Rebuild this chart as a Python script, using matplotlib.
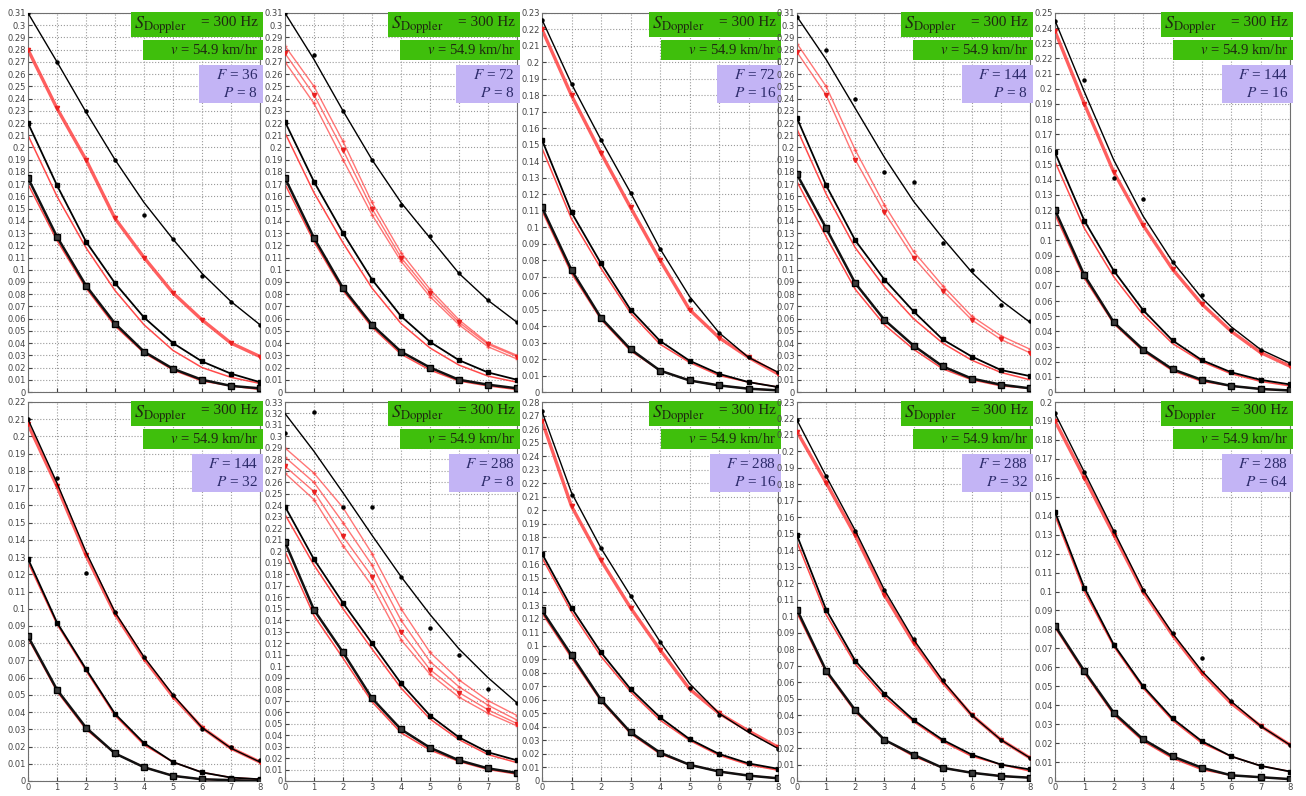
import numpy as np
import matplotlib
matplotlib.use("Agg")
import matplotlib.pyplot as plt
from matplotlib.patches import Rectangle
from matplotlib.ticker import FuncFormatter

plt.rcParams['mathtext.fontset'] = 'stix'
plt.rcParams['font.family'] = ['DejaVu Sans']

X = [0, 1, 2, 3, 4, 5, 6, 7, 8]

F_VALUES = [36, 72, 72, 144, 144, 144, 288, 288, 288, 288]
P_VALUES = [8, 8, 16, 8, 16, 32, 8, 16, 32, 64]
Y_MAX = [0.31, 0.31, 0.23, 0.31, 0.25, 0.22, 0.33, 0.28, 0.23, 0.20]

# black curves (top, middle, bottom) and the scattered points on the top one
p1_black = [[0.31, 0.27, 0.229, 0.19, 0.155, 0.125, 0.097, 0.074, 0.055],
            [0.22, 0.169, 0.123, 0.089, 0.061, 0.04, 0.025, 0.015, 0.008],
            [0.175, 0.127, 0.087, 0.056, 0.033, 0.019, 0.01, 0.005, 0.003]]
p1_dots = [0.31, 0.27, 0.23, 0.19, 0.145, 0.125, 0.095, 0.074, 0.055]
p1_red_top = [[0.28, 0.232, 0.19, 0.142, 0.11, 0.081, 0.059, 0.04, 0.029]]
p1_red = [[0.21, 0.16, 0.118, 0.083, 0.055, 0.034, 0.02, 0.012, 0.007],
          [0.17, 0.124, 0.085, 0.054, 0.032, 0.018, 0.009, 0.005, 0.002]]

p2_black = [[0.31, 0.272, 0.23, 0.19, 0.155, 0.126, 0.097, 0.075, 0.057],
            [0.221, 0.172, 0.13, 0.092, 0.062, 0.041, 0.026, 0.016, 0.01],
            [0.175, 0.126, 0.085, 0.055, 0.033, 0.02, 0.01, 0.006, 0.003]]
p2_dots = [0.31, 0.276, 0.23, 0.19, 0.153, 0.128, 0.097, 0.075, 0.057]
p2_red_top = [[0.283, 0.25, 0.205, 0.155, 0.114, 0.084, 0.059, 0.04, 0.03],
              [0.277, 0.243, 0.198, 0.15, 0.11, 0.081, 0.057, 0.039, 0.029],
              [0.27, 0.236, 0.19, 0.145, 0.107, 0.078, 0.055, 0.037, 0.027]]
p2_red = [[0.212, 0.163, 0.122, 0.085, 0.056, 0.036, 0.022, 0.013, 0.008],
          [0.17, 0.123, 0.083, 0.053, 0.031, 0.018, 0.009, 0.005, 0.002]]

p3_black = [[0.226, 0.187, 0.153, 0.121, 0.087, 0.058, 0.036, 0.021, 0.012],
            [0.153, 0.109, 0.078, 0.05, 0.031, 0.019, 0.011, 0.006, 0.003],
            [0.112, 0.074, 0.045, 0.026, 0.013, 0.007, 0.004, 0.002, 0.001]]
p3_dots = [0.226, 0.187, 0.153, 0.121, 0.087, 0.056, 0.036, 0.021, 0.012]
p3_red_top = [[0.22, 0.18, 0.145, 0.112, 0.08, 0.05, 0.033, 0.021, 0.011]]
p3_red = [[0.148, 0.105, 0.075, 0.048, 0.029, 0.018, 0.01, 0.006, 0.003],
          [0.11, 0.072, 0.044, 0.025, 0.013, 0.007, 0.004, 0.002, 0.001]]

p4_black = [[0.307, 0.272, 0.232, 0.192, 0.156, 0.126, 0.098, 0.075, 0.057],
            [0.224, 0.169, 0.124, 0.092, 0.066, 0.043, 0.029, 0.018, 0.013],
            [0.178, 0.134, 0.089, 0.059, 0.038, 0.021, 0.011, 0.006, 0.003]]
p4_dots = [0.307, 0.28, 0.24, 0.18, 0.172, 0.122, 0.1, 0.071, 0.058]
p4_red_top = [[0.285, 0.25, 0.198, 0.153, 0.115, 0.087, 0.062, 0.046, 0.035],
              [0.278, 0.243, 0.19, 0.147, 0.11, 0.083, 0.059, 0.043, 0.032]]
p4_red = [[0.215, 0.162, 0.118, 0.086, 0.06, 0.04, 0.026, 0.016, 0.01],
          [0.172, 0.127, 0.084, 0.055, 0.035, 0.019, 0.01, 0.005, 0.003]]

p5_black = [[0.245, 0.198, 0.153, 0.116, 0.086, 0.062, 0.043, 0.028, 0.019],
            [0.158, 0.113, 0.08, 0.054, 0.034, 0.021, 0.013, 0.008, 0.005],
            [0.12, 0.077, 0.046, 0.028, 0.015, 0.008, 0.004, 0.002, 0.001]]
p5_dots = [0.245, 0.206, 0.141, 0.127, 0.086, 0.064, 0.041, 0.028, 0.019]
p5_red_top = [[0.238, 0.19, 0.145, 0.11, 0.081, 0.058, 0.04, 0.026, 0.017]]
p5_red = [[0.152, 0.108, 0.076, 0.051, 0.032, 0.02, 0.012, 0.007, 0.004],
          [0.117, 0.075, 0.045, 0.027, 0.014, 0.007, 0.004, 0.002, 0.001]]

p6_black = [[0.21, 0.173, 0.133, 0.098, 0.072, 0.05, 0.031, 0.019, 0.011],
            [0.129, 0.092, 0.065, 0.039, 0.022, 0.011, 0.005, 0.002, 0.001],
            [0.084, 0.053, 0.031, 0.016, 0.008, 0.003, 0.001, 0.0005, 0.0]]
p6_dots = [0.21, 0.176, 0.121, 0.098, 0.072, 0.05, 0.03, 0.02, 0.012]
p6_red_top = [[0.207, 0.171, 0.131, 0.097, 0.071, 0.049, 0.031, 0.019, 0.011]]
p6_red = [[0.127, 0.091, 0.064, 0.038, 0.021, 0.011, 0.005, 0.002, 0.001],
          [0.083, 0.052, 0.03, 0.016, 0.008, 0.003, 0.001, 0.0005, 0.0]]

p7_black = [[0.32, 0.287, 0.251, 0.214, 0.178, 0.145, 0.115, 0.09, 0.068],
            [0.239, 0.193, 0.155, 0.12, 0.085, 0.057, 0.038, 0.025, 0.018],
            [0.208, 0.149, 0.112, 0.072, 0.045, 0.029, 0.018, 0.011, 0.007]]
p7_dots = [0.303, 0.321, 0.239, 0.239, 0.178, 0.133, 0.11, 0.08, 0.068]
p7_red_top = [[0.29, 0.268, 0.238, 0.198, 0.15, 0.112, 0.088, 0.07, 0.057],
              [0.282, 0.26, 0.225, 0.188, 0.14, 0.104, 0.082, 0.066, 0.053],
              [0.274, 0.252, 0.213, 0.178, 0.13, 0.097, 0.077, 0.062, 0.05],
              [0.268, 0.245, 0.205, 0.17, 0.123, 0.093, 0.073, 0.059, 0.048]]
p7_red = [[0.232, 0.188, 0.15, 0.115, 0.081, 0.054, 0.036, 0.023, 0.016],
          [0.2, 0.144, 0.107, 0.069, 0.042, 0.027, 0.017, 0.01, 0.006]]

p8_black = [[0.273, 0.213, 0.172, 0.137, 0.103, 0.072, 0.05, 0.036, 0.024],
            [0.168, 0.128, 0.095, 0.068, 0.047, 0.031, 0.02, 0.013, 0.009],
            [0.126, 0.093, 0.06, 0.036, 0.021, 0.012, 0.007, 0.004, 0.002]]
p8_dots = [0.273, 0.211, 0.172, 0.137, 0.103, 0.069, 0.049, 0.038, 0.024]
p8_red_top = [[0.266, 0.203, 0.163, 0.128, 0.097, 0.068, 0.05, 0.037, 0.025]]
p8_red = [[0.165, 0.125, 0.092, 0.066, 0.045, 0.03, 0.019, 0.012, 0.008],
          [0.124, 0.091, 0.059, 0.035, 0.02, 0.012, 0.007, 0.004, 0.002]]

p9_black = [[0.219, 0.185, 0.152, 0.116, 0.086, 0.061, 0.04, 0.025, 0.014],
            [0.149, 0.104, 0.073, 0.053, 0.037, 0.025, 0.016, 0.01, 0.007],
            [0.104, 0.067, 0.043, 0.025, 0.016, 0.008, 0.005, 0.003, 0.002]]
p9_dots = [0.219, 0.185, 0.152, 0.116, 0.086, 0.061, 0.04, 0.025, 0.014]
p9_red_top = [[0.212, 0.181, 0.149, 0.113, 0.084, 0.06, 0.04, 0.025, 0.014]]
p9_red = [[0.145, 0.101, 0.071, 0.051, 0.036, 0.024, 0.015, 0.01, 0.006],
          [0.102, 0.066, 0.042, 0.025, 0.015, 0.008, 0.005, 0.003, 0.002]]

p10_black = [[0.194, 0.163, 0.132, 0.101, 0.078, 0.058, 0.042, 0.029, 0.019],
             [0.142, 0.102, 0.072, 0.05, 0.033, 0.021, 0.013, 0.008, 0.005],
             [0.082, 0.058, 0.036, 0.022, 0.013, 0.007, 0.003, 0.002, 0.001]]
p10_dots = [0.194, 0.163, 0.132, 0.101, 0.078, 0.065, 0.042, 0.029, 0.019]
p10_red_top = [[0.19, 0.16, 0.13, 0.1, 0.077, 0.057, 0.041, 0.029, 0.019]]
p10_red = [[0.14, 0.1, 0.071, 0.049, 0.032, 0.02, 0.013, 0.008, 0.005],
           [0.081, 0.057, 0.035, 0.021, 0.012, 0.006, 0.003, 0.002, 0.001]]

panels = [
    (p1_black, p1_dots, p1_red_top, p1_red),
    (p2_black, p2_dots, p2_red_top, p2_red),
    (p3_black, p3_dots, p3_red_top, p3_red),
    (p4_black, p4_dots, p4_red_top, p4_red),
    (p5_black, p5_dots, p5_red_top, p5_red),
    (p6_black, p6_dots, p6_red_top, p6_red),
    (p7_black, p7_dots, p7_red_top, p7_red),
    (p8_black, p8_dots, p8_red_top, p8_red),
    (p9_black, p9_dots, p9_red_top, p9_red),
    (p10_black, p10_dots, p10_red_top, p10_red),
]

W, H = 1306, 796
fig = plt.figure(figsize=(W / 100, H / 100), dpi=100)
fig.patch.set_facecolor('white')

# axes boxes in pixels: left/right per column, top/bottom per row
lefts = [28, 285, 542, 797, 1055]
rights = [260, 517, 778, 1030, 1290]
rows = [(13, 392), (402, 781)]

GREEN = '#3fbf0c'
PURPLE = '#c3b4f5'


def fmt_tick(v, _):
    s = '%.2f' % v
    s = s.rstrip('0').rstrip('.')
    return s


for i, (black, dots, red_top, red) in enumerate(panels):
    r, c = divmod(i, 5)
    top, bot = rows[r]
    l, rr = lefts[c], rights[c]
    ax = fig.add_axes([l / W, 1 - bot / H, (rr - l) / W, (bot - top) / H])
    ymax = Y_MAX[i]

    # red simulation curves first, black on top
    thick = len(red_top) == 1
    for ys in red_top:
        if thick:
            ax.plot(X, ys, color='#ff2a2a', lw=2.4, alpha=0.75, zorder=2)
        else:
            ax.plot(X, ys, color='#ff3b3b', lw=1.0, alpha=0.7, marker='+',
                    ms=3, zorder=2)
    ax.plot(X, red_top[len(red_top) // 2], ls='none', marker='v', ms=3,
            color='#e82020', zorder=3)
    for ys in red:
        ax.plot(X, ys, color='#ff2a2a', lw=1.1, alpha=0.85, zorder=2)

    ax.plot(X, black[0], color='k', lw=1.0, zorder=4)
    ax.plot(X, dots, ls='none', marker='o', ms=2.2, color='k', zorder=5)
    ax.plot(X, black[1], color='k', lw=1.3, marker='s', ms=2.5, zorder=4)
    ax.plot(X, black[2], color='#111111', lw=1.8, marker='s', ms=4.5,
            mfc='#3a3a3a', mec='k', zorder=4)

    ax.set_xlim(0, 8)
    ax.set_ylim(0, ymax)
    ax.set_xticks(X)
    ax.set_yticks(np.arange(0, ymax + 1e-9, 0.01))
    ax.yaxis.set_major_formatter(FuncFormatter(fmt_tick))
    ax.grid(True, linestyle=':', color='#9a9a9a', linewidth=0.8)
    ax.set_axisbelow(True)
    ax.tick_params(direction='in', length=3, labelsize=6, colors='#444444',
                   pad=1.5)
    if r == 0:
        ax.tick_params(labelbottom=False)
    for sp in ax.spines.values():
        sp.set_color('#6f6f6f')
        sp.set_linewidth(0.8)

    # annotation boxes, sized in pixels from the top-right corner
    aw, ah = rr - l, bot - top

    def box(x0, y0, x1, y1, color):
        ax.add_patch(Rectangle((1 - x0 / aw, 1 - y1 / ah), (x0 - x1) / aw,
                               (y1 - y0) / ah, transform=ax.transAxes,
                               facecolor=color, edgecolor='none',
                               clip_on=False, zorder=10))

    box(129, -1, -3, 24, GREEN)
    box(117, 27, -3, 47, GREEN)
    pw = 61 if F_VALUES[i] < 100 else 68
    box(pw, 52, -3, 90, PURPLE)

    ax.text(1 - 126 / aw, 1 - 12 / ah, r'$S_{\mathrm{Doppler}}$',
            transform=ax.transAxes, fontsize=13, color='#1e2a10',
            va='center', ha='left', zorder=11)
    ax.text(1 - 2 / aw, 1 - 9 / ah, r'= 300 Hz', family='Liberation Serif',
            transform=ax.transAxes, fontsize=11, color='#1e2a10',
            va='center', ha='right', zorder=11)
    ax.text(1 - 2 / aw, 1 - 37 / ah, r'$v$ = 54.9 km/hr',
            family='Liberation Serif', transform=ax.transAxes, fontsize=10.5,
            color='#1e2a10', va='center', ha='right', zorder=11)
    ax.text(1 - 2 / aw, 1 - 62 / ah, r'$F$ = %d' % F_VALUES[i],
            family='Liberation Serif', transform=ax.transAxes, fontsize=11,
            color='#2c2a6a', va='center', ha='right', zorder=11)
    ax.text(1 - 2 / aw, 1 - 80 / ah, r'$P$ = %d' % P_VALUES[i],
            family='Liberation Serif', transform=ax.transAxes, fontsize=11,
            color='#2c2a6a', va='center', ha='right', zorder=11)

fig.savefig('out.png', dpi=100, facecolor='white')
